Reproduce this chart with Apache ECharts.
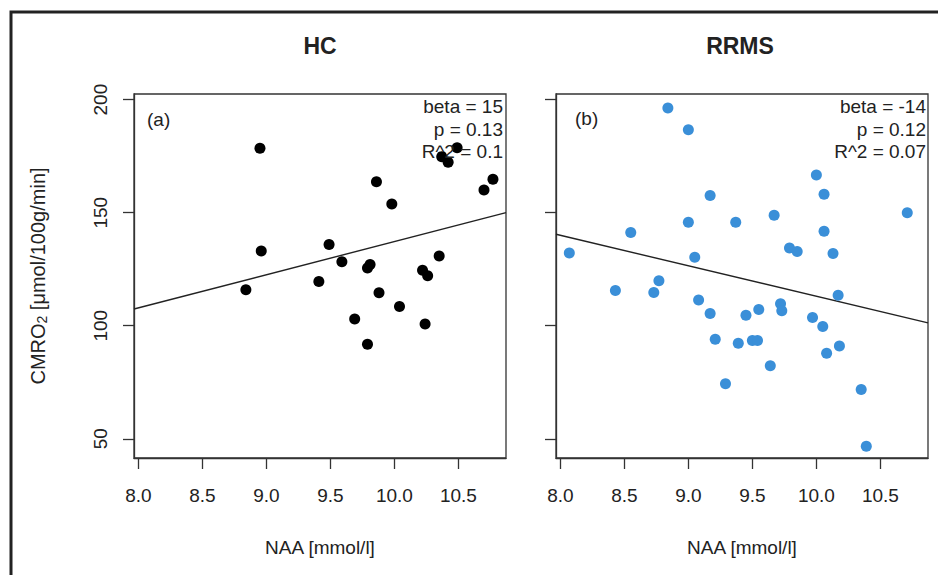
<!DOCTYPE html>
<html>
<head>
<meta charset="utf-8">
<script src="https://cdn.jsdelivr.net/npm/echarts@6/dist/echarts.min.js"></script>
<style>
html,body{margin:0;padding:0;background:#fff;}
#chart{width:938px;height:575px;}
</style>
</head>
<body>
<div id="chart"></div>
<script>
// ---- Data ----
const panelTitles = ['HC', 'RRMS'];
const panelTags = ['(a)', '(b)'];

const hcNAA = [8.95, 8.96, 8.84, 9.49, 9.59, 9.41, 9.79, 9.81, 9.86, 9.98, 9.88, 9.69, 9.79, 10.04, 10.22, 10.26, 10.24, 10.35, 10.37, 10.42, 10.49, 10.70, 10.77];
const hcCMRO2 = [178.5, 133.1, 115.9, 135.9, 128.3, 119.6, 125.5, 127.1, 163.7, 153.8, 114.6, 103.0, 91.8, 108.5, 124.5, 122.1, 100.8, 130.8, 174.8, 172.3, 178.7, 160.0, 164.8];

const rrmsNAA = [8.07, 8.43, 8.55, 8.73, 8.77, 8.84, 9.00, 9.00, 9.05, 9.08, 9.17, 9.17, 9.21, 9.29, 9.37, 9.39, 9.45, 9.50, 9.54, 9.55, 9.64, 9.67, 9.72, 9.73, 9.79, 9.85, 9.97, 10.00, 10.05, 10.06, 10.06, 10.08, 10.13, 10.17, 10.18, 10.35, 10.39, 10.71];
const rrmsCMRO2 = [132.2, 115.6, 141.2, 114.7, 119.9, 196.3, 186.7, 145.8, 130.3, 111.4, 157.6, 105.4, 94.0, 74.3, 145.8, 92.3, 104.6, 93.5, 93.5, 107.2, 82.3, 148.9, 109.7, 106.6, 134.4, 132.8, 103.6, 166.7, 99.7, 158.2, 141.8, 87.8, 132.0, 113.5, 91.0, 71.8, 46.7, 150.0];

// regression fits [intercept, slope]
const hcFit = [-9.38, 14.66];
const rrmsFit = [247.84, -13.48];

const hcStats = ['beta = 15', 'p = 0.13', 'R^2 = 0.1'];
const rrmsStats = ['beta = -14', 'p = 0.12', 'R^2 = 0.07'];

const xTicks = [8.0, 8.5, 9.0, 9.5, 10.0, 10.5];
const yTicks = [50, 100, 150, 200];
const xRange = [7.966, 10.872];
const yRange = [41.5, 202.5];

// ---- Build ----
const FONT = '"Liberation Sans", Arial, Helvetica, sans-serif';
const zip = (a, b) => a.map((v, i) => [v, b[i]]);
const fitLine = f => xRange.map(x => [x, f[0] + f[1] * x]);

const grids = [
  {left: 134, top: 94, width: 372, height: 364},
  {left: 556, top: 94, width: 372, height: 364}
];

function xAxisFor(i) {
  return {
    type: 'value', gridIndex: i, min: xRange[0], max: xRange[1],
    name: 'NAA [mmol/l]', nameLocation: 'middle', nameGap: 80,
    nameTextStyle: {fontFamily: FONT, fontSize: 19, color: '#222'},
    axisLine: {show: true, lineStyle: {color: '#333', width: 1.3}},
    axisTick: {show: true, length: 11, customValues: xTicks, lineStyle: {color: '#333', width: 1.3}},
    axisLabel: {show: true, customValues: xTicks, margin: 28, fontFamily: FONT, fontSize: 19, color: '#222',
      formatter: v => Number(v).toFixed(1)},
    splitLine: {show: false}
  };
}
function yAxisFor(i) {
  const ax = {
    type: 'value', gridIndex: i, min: yRange[0], max: yRange[1],
    axisLine: {show: true, lineStyle: {color: '#333', width: 1.3}},
    axisTick: {show: true, length: 11, customValues: yTicks, lineStyle: {color: '#333', width: 1.3}},
    axisLabel: {show: i === 0, customValues: yTicks, rotate: 90, margin: 24, fontFamily: FONT, fontSize: 19, color: '#222'},
    splitLine: {show: false}
  };
  if (i === 0) {
    ax.name = '{a|CMRO}{s|2}{a| [μmol/100g/min]}';
    ax.nameLocation = 'middle';
    ax.nameGap = 85;
    ax.nameTextStyle = {
      fontFamily: FONT, fontSize: 20, color: '#222',
      rich: {
        a: {fontFamily: FONT, fontSize: 20, color: '#222'},
        s: {fontFamily: FONT, fontSize: 14, color: '#222', verticalAlign: 'bottom', padding: [8, 0, 0, 0]}
      }
    };
  }
  return ax;
}

const textEl = (x, y, text, align, size, weight) => ({
  type: 'text', x: x, y: y, z: 10,
  style: {text: text, fontFamily: FONT, fontSize: size, fontWeight: weight || 'normal',
    fill: '#222', textAlign: align, textVerticalAlign: 'middle'}
});

const graphics = [
  {type: 'rect', shape: {x: 11, y: 12, width: 950, height: 600}, z: -1,
    style: {fill: 'none', stroke: '#222', lineWidth: 3}},
  textEl(320, 46, panelTitles[0], 'center', 23, 'bold'),
  textEl(740, 46, panelTitles[1], 'center', 23, 'bold'),
  textEl(147, 119, panelTags[0], 'left', 19),
  textEl(575, 118, panelTags[1], 'left', 19)
];
hcStats.forEach((t, k) => graphics.push(textEl(503, 106.5 + k * 22.5, t, 'right', 19)));
rrmsStats.forEach((t, k) => graphics.push(textEl(926, 106.5 + k * 22.5, t, 'right', 19)));

const option = {
  animation: false,
  backgroundColor: '#fff',
  grid: grids.map(g => Object.assign({show: true, borderColor: '#333', borderWidth: 1.3, backgroundColor: 'transparent'}, g)),
  xAxis: [xAxisFor(0), xAxisFor(1)],
  yAxis: [yAxisFor(0), yAxisFor(1)],
  graphic: graphics,
  series: [
    {type: 'scatter', xAxisIndex: 0, yAxisIndex: 0, data: zip(hcNAA, hcCMRO2),
      symbolSize: 11, itemStyle: {color: '#000', opacity: 1}, z: 3},
    {type: 'line', xAxisIndex: 0, yAxisIndex: 0, data: fitLine(hcFit), symbol: 'none',
      lineStyle: {color: '#222', width: 1.4}, z: 2},
    {type: 'scatter', xAxisIndex: 1, yAxisIndex: 1, data: zip(rrmsNAA, rrmsCMRO2),
      symbolSize: 11, itemStyle: {color: '#3A8FD8', opacity: 1}, z: 3},
    {type: 'line', xAxisIndex: 1, yAxisIndex: 1, data: fitLine(rrmsFit), symbol: 'none',
      lineStyle: {color: '#222', width: 1.4}, z: 2}
  ]
};

const chart = echarts.init(document.getElementById('chart'), null, {renderer: 'svg'});
chart.setOption(option);
</script>
</body>
</html>
